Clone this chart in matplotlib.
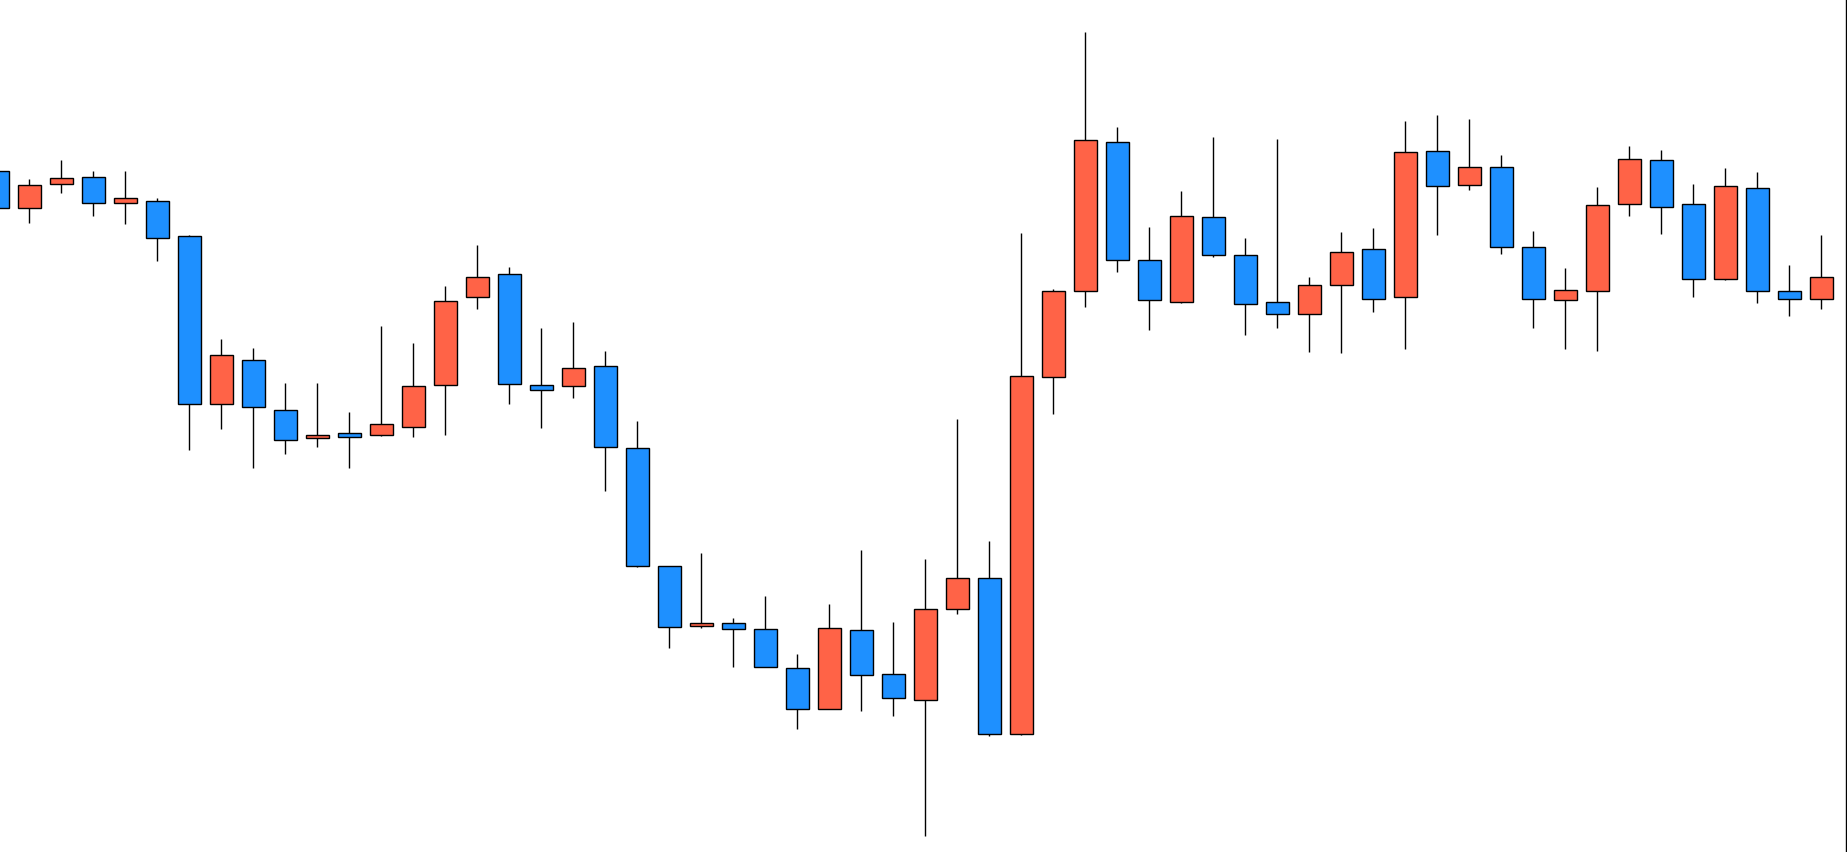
import matplotlib
matplotlib.use("Agg")
import matplotlib.pyplot as plt
from matplotlib.lines import Line2D
import numpy as np

opens = [681.5, 644.4, 667.8, 675.4, 648.8, 651.5, 615.6, 447.7, 492.3, 442.3,
         413.8, 419.0, 416.8, 425.5, 467.3, 555.3, 577.6, 467.3, 465.7, 486.3,
         403.7, 286.4, 226.2, 229.5, 223.3, 183.7, 143.5, 222.2, 177.7, 151.6,
         243.4, 274.4, 118.5, 474.9, 561.3, 709.6, 591.7, 550.4, 635.2, 596.6,
         550.4, 538.5, 567.3, 602.6, 555.3, 701.5, 666.7, 685.2, 605.3, 552.1,
         561.3, 647.7, 692.3, 647.7, 572.7, 664.5, 561.3, 552.6]
highs = [681.5, 673.2, 692.3, 680.8, 680.8, 654.2, 617.3, 512.9, 504.2, 468.9,
         468.9, 440.1, 526.0, 509.1, 566.2, 607.5, 585.2, 523.8, 529.8, 501.0,
         430.9, 286.4, 298.9, 234.2, 255.9, 197.8, 247.8, 302.1, 229.9, 292.9,
         433.1, 310.8, 618.9, 562.9, 819.9, 724.9, 624.9, 660.7, 715.1, 614.0,
         712.9, 574.9, 620.0, 623.8, 730.8, 736.8, 733.0, 697.1, 621.1, 584.1,
         665.1, 705.8, 702.0, 667.8, 684.1, 679.8, 586.8, 617.3]
lows = [643.8, 628.7, 658.6, 636.3, 627.6, 590.6, 401.6, 422.7, 383.6, 398.3,
        404.8, 383.6, 415.7, 414.6, 417.3, 543.4, 448.3, 424.4, 453.7, 361.3,
        285.3, 203.8, 223.9, 185.3, 184.7, 123.4, 143.5, 141.3, 136.4, 16.3,
        238.5, 116.3, 117.4, 438.5, 545.5, 580.3, 521.6, 548.8, 595.5, 516.7,
        523.8, 500.4, 498.8, 539.6, 502.6, 616.7, 662.4, 597.7, 523.8, 502.6,
        501.5, 636.3, 618.4, 554.8, 571.6, 548.8, 536.3, 543.4]
closes = [643.8, 666.7, 674.3, 648.8, 653.7, 614.0, 448.3, 496.6, 445.0, 411.9,
          417.0, 415.5, 427.6, 466.2, 551.5, 575.4, 468.4, 462.4, 483.6, 404.8,
          286.4, 225.5, 229.4, 222.8, 184.7, 142.9, 224.4, 176.6, 154.3, 243.4,
          274.4, 118.5, 476.0, 561.3, 712.4, 591.7, 552.1, 636.3, 597.2, 547.7,
          538.5, 566.7, 600.4, 552.6, 700.4, 665.6, 685.2, 604.8, 552.6, 562.4,
          646.6, 693.3, 645.5, 572.7, 665.6, 560.8, 552.6, 575.4]

UP_COLOR = "#FF6347"
DOWN_COLOR = "#1E90FF"

W, H, DPI = 1847, 852, 100
fig = plt.figure(figsize=(W / DPI, H / DPI), dpi=DPI)
ax = fig.add_axes([0, 0, 1, 1])

o = np.array(opens)
h = np.array(highs)
l = np.array(lows)
c = np.array(closes)
x = np.arange(len(o))
colors = [UP_COLOR if cc >= oo else DOWN_COLOR for oo, cc in zip(o, c)]

ax.vlines(x, l, h, color="black", linewidth=1.0, zorder=1)
ax.bar(x, np.abs(c - o), bottom=np.minimum(o, c), width=0.73,
       color=colors, edgecolor="black", linewidth=1.0, zorder=2)

ax.set_xlim(0.084, 0.084 + W / 32.0)
ax.set_ylim(0, H)
ax.axis("off")

fig.add_artist(Line2D([(W - 0.6) / W] * 2, [0, 1], transform=fig.transFigure,
                      color="black", linewidth=1.0))

fig.savefig("out.png", dpi=DPI, facecolor="white")
